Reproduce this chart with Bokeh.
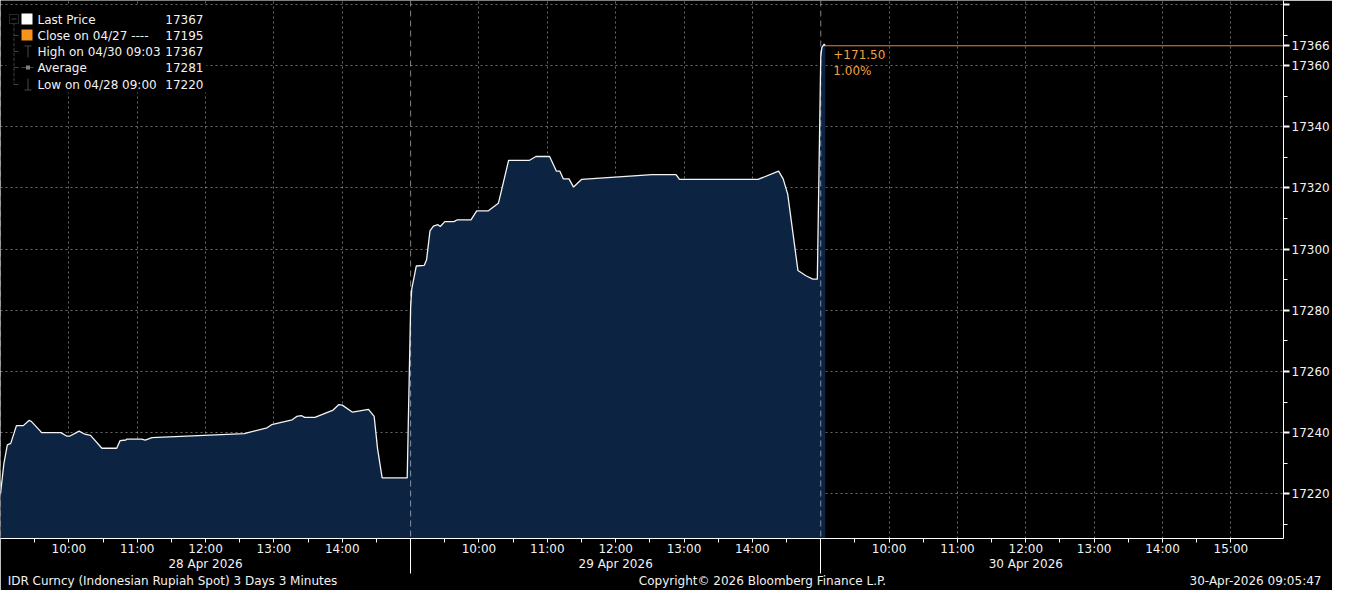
from bokeh.plotting import figure
from bokeh.models import FixedTicker, Span, Label, BoxAnnotation, Range1d, LinearAxis
from bokeh.embed import file_html
from bokeh.resources import INLINE

# ---------------- data ----------------
day_dates = ["28 Apr 2026", "29 Apr 2026", "30 Apr 2026"]

day1_times = ["09:00", "09:03", "09:06", "09:09", "09:14", "09:20", "09:25", "09:27", "09:35", "09:36",
              "09:53", "09:58", "10:01", "10:09", "10:14", "10:19", "10:29", "10:42", "10:45", "10:50",
              "10:51", "11:04", "11:07", "11:13", "12:34", "12:39", "12:54", "12:58", "13:16", "13:20",
              "13:24", "13:27", "13:36", "13:52", "13:57", "14:00", "14:09", "14:23", "14:28", "14:31",
              "14:35", "14:57"]
day1_prices = [17220, 17230, 17236, 17236.5, 17242.3, 17242.3, 17244, 17243.7, 17240.5, 17240,
               17240, 17238.9, 17238.9, 17240.5, 17239.5, 17239.1, 17234.9, 17234.9, 17237.4, 17237.6,
               17237.9, 17237.9, 17237.6, 17238.4, 17239.7, 17240.2, 17241.6, 17242.6, 17244.2, 17245.3,
               17245.6, 17245.0, 17245.0, 17247.4, 17249.2, 17249.0, 17246.7, 17247.6, 17245.3, 17234.7,
               17225.2, 17225.2]

day2_times = ["09:00", "09:01", "09:05", "09:12", "09:14", "09:17", "09:20", "09:24", "09:26", "09:30",
              "09:38", "09:41", "09:53", "09:58", "10:08", "10:17", "10:19", "10:26", "10:44", "10:50",
              "11:02", "11:08", "11:11", "11:14", "11:19", "11:23", "11:30", "12:32", "12:53", "12:56",
              "14:05", "14:23", "14:27", "14:31", "14:40", "14:47", "14:53", "14:57"]
day2_prices = [17281, 17287, 17294.5, 17294.7, 17296.5, 17306, 17307.5, 17308, 17307.4, 17309,
               17309, 17309.6, 17309.6, 17312.5, 17312.5, 17315, 17318, 17329, 17329, 17330.3,
               17330.3, 17325.5, 17325.5, 17323, 17323, 17320.3, 17322.8, 17324.4, 17324.4, 17322.8,
               17322.8, 17325.5, 17323, 17318, 17293, 17291.3, 17290.2, 17290.2]

day3_times = ["09:00", "09:01", "09:03", "09:04"]
day3_prices = [17363, 17366, 17367, 17366.5]

prev_close = 17195
tick_hours = [[10, 11, 12, 13, 14], [10, 11, 12, 13, 14], [10, 11, 12, 13, 14, 15]]
half_hours = [[9.5, 10.5, 11.5, 12.5, 13.5, 14.5], [9.5, 10.5, 11.5, 12.5, 13.5, 14.5],
              [9.5, 10.5, 11.5, 12.5, 13.5, 14.5]]
y_ticks = [17220, 17240, 17260, 17280, 17300, 17320, 17340, 17360, 17380]
y_minor = [17210, 17230, 17250, 17270, 17290, 17310, 17330, 17350, 17370]

legend_names = ["Last Price", "Close on 04/27 ----", "High on 04/30 09:03", "Average", "Low on 04/28 09:00"]
legend_values = ["17367", "17195", "17367", "17281", "17220"]

footer_left = "IDR Curncy (Indonesian Rupiah Spot) 3 Days 3 Minutes"
footer_mid = "Copyright\u00a9 2026 Bloomberg Finance L.P."
footer_right = "30-Apr-2026 09:05:47"

# ---------------- helpers ----------------
SESSION_START = 9
SESSION_LEN = 6


def to_x(day, t):
    h, m = t.split(":")
    return day * SESSION_LEN + (int(h) - SESSION_START) + int(m) / 60.0


xs, ys = [], []
for d, (tt, pp) in enumerate([(day1_times, day1_prices), (day2_times, day2_prices), (day3_times, day3_prices)]):
    xs += [to_x(d, t) for t in tt]
    ys += pp

X_END = 18.77
Y0, Y1 = 17205.4, 17381.3
FW, FH = 1283, 538
FONT = "DejaVu Sans"
WHITE = "#f2f2f2"
PX = X_END / FW  # data units per pixel along x

p = figure(frame_width=FW, frame_height=FH, x_range=Range1d(0, X_END), y_range=Range1d(Y0, Y1),
           y_axis_location="right", x_axis_location="below", toolbar_location=None,
           output_backend="svg", min_border_left=0, min_border_top=0, min_border_right=48,
           min_border_bottom=52, background_fill_color="black", border_fill_color="black",
           outline_line_color=None)


def style_text(ax):
    ax.major_label_text_color = WHITE
    ax.major_label_text_font = FONT
    ax.major_label_text_font_size = "12px"


# x axis (times)
x_major, x_minor, x_over = [], [], {}
for d in range(3):
    for h in tick_hours[d]:
        v = d * SESSION_LEN + (h - SESSION_START)
        x_major.append(v)
        x_over[v] = f"{h:02d}:00"
    for h in half_hours[d]:
        x_minor.append(d * SESSION_LEN + (h - SESSION_START))
xt = FixedTicker(ticks=x_major, minor_ticks=x_minor)
xa = p.xaxis[0]
xa.ticker = xt
xa.major_label_overrides = x_over
xa.axis_line_color = "white"
xa.major_tick_line_color = "white"
xa.minor_tick_line_color = "white"
xa.major_tick_out = 4
xa.major_tick_in = 0
xa.minor_tick_out = 4
xa.minor_tick_in = 0
xa.major_label_standoff = -1
style_text(xa)

# date axis (second row)
date_pos = [d * SESSION_LEN + 3 for d in range(3)]
da = LinearAxis(ticker=FixedTicker(ticks=date_pos, minor_ticks=[]),
                major_label_overrides={v: t for v, t in zip(date_pos, day_dates)})
da.axis_line_color = None
da.major_tick_line_color = None
da.minor_tick_line_color = None
da.major_tick_out = 0
da.major_tick_in = 0
da.minor_tick_out = 0
da.minor_tick_in = 0
da.major_label_standoff = -2
style_text(da)
p.add_layout(da, "below")

# footer axis (third row); day separators drawn as its upward minor ticks
sep_pos = [d * SESSION_LEN for d in (1, 2)]
footer_px = [3 + 169, 762, FW + 46 - 74]
footer_pos = [round(v * PX, 4) for v in footer_px]
fa = LinearAxis(ticker=FixedTicker(ticks=footer_pos, minor_ticks=sep_pos),
                major_label_overrides={v: t for v, t in zip(footer_pos, [footer_left, footer_mid, footer_right])})
fa.axis_line_color = None
fa.major_tick_line_color = None
fa.major_tick_out = 0
fa.major_tick_in = 0
fa.minor_tick_line_color = "white"
fa.minor_tick_out = 0
fa.minor_tick_in = 35
fa.major_label_standoff = 0
style_text(fa)
p.add_layout(fa, "below")

# y axis (prices) with last price marker
last_x, last_p = xs[-1], ys[-1]
yt = FixedTicker(ticks=y_ticks + [last_p], minor_ticks=y_minor)
ya = p.yaxis[0]
ya.ticker = yt
ya.major_label_overrides = {17380: "", last_p: str(int(last_p))}
ya.axis_line_color = "white"
ya.major_tick_line_color = "white"
ya.minor_tick_line_color = "white"
ya.major_tick_out = 6
ya.major_tick_in = 0
ya.major_tick_line_width = 2
ya.minor_tick_out = 4
ya.minor_tick_in = 0
ya.major_label_standoff = 2
style_text(ya)

# grids
p.xgrid.ticker = xt
p.ygrid.ticker = FixedTicker(ticks=y_ticks, minor_ticks=[])
for g in (p.xgrid, p.ygrid):
    g.grid_line_color = "white"
    g.grid_line_alpha = 0.42
    g.grid_line_dash = "2 3"
    g.grid_line_width = 1

# day separators in plot area
for d in range(3):
    p.add_layout(Span(location=d * SESSION_LEN, dimension="height", line_color="white",
                      line_alpha=0.5, line_dash="6 4", line_width=1))

# area + line
p.varea(x=xs, y1=[Y0] * len(xs), y2=ys, fill_color="#0c2341")
p.line(xs, ys, line_color="#f4f4f4", line_width=1.3)

p.segment(x0=[last_x], y0=[last_p], x1=[X_END], y1=[last_p], line_color="#e8823c", line_width=1)

chg = last_p - prev_close
pct = chg / prev_close * 100
p.add_layout(Label(x=last_x, y=last_p, x_offset=8, y_offset=-9, text=f"+{chg:.2f}",
                   text_color="#f0a040", text_font=FONT, text_font_size="12px",
                   text_baseline="middle"))
p.add_layout(Label(x=last_x, y=last_p, x_offset=8, y_offset=-25, text=f"{pct:.2f}%",
                   text_color="#f0a040", text_font=FONT, text_font_size="12px",
                   text_baseline="middle"))

# legend
GRAY = "#808080"


def box(l, r, t, b, **kw):
    p.add_layout(BoxAnnotation(left=l, right=r, top=FH - t, bottom=FH - b, left_units="screen",
                               right_units="screen", top_units="screen", bottom_units="screen",
                               **kw))


box(6, 206, 6, 92, fill_color="black", fill_alpha=1, line_color=None)
rows = [19, 35, 51, 67, 84]
box(9, 18, 14, 23, fill_alpha=0, line_color=GRAY, line_width=1)
box(11, 16, 18.5, 18.5, fill_alpha=0, line_color=GRAY, line_width=1)
box(13.5, 13.5, 23, 84, fill_alpha=0, line_color=GRAY, line_width=1, line_dash="3 2")
for r in rows[1:]:
    box(13.5, 18, r, r, fill_alpha=0, line_color=GRAY, line_width=1)
box(21, 32, 13, 24, fill_color="white", fill_alpha=1, line_color=None)
box(21, 32, 29, 40, fill_color="#f7941d", fill_alpha=1, line_color=None)
box(24, 31, 45.5, 45.5, fill_alpha=0, line_color=GRAY)
box(27.5, 27.5, 45.5, 57, fill_alpha=0, line_color=GRAY)
box(21, 33, 67, 67, fill_alpha=0, line_color=GRAY)
box(25.5, 29.5, 65, 69, fill_color=GRAY, fill_alpha=1, line_color=None)
box(27.5, 27.5, 78, 89.5, fill_alpha=0, line_color=GRAY)
box(24, 31, 89.5, 89.5, fill_alpha=0, line_color=GRAY)
for r, name, val in zip(rows, legend_names, legend_values):
    p.add_layout(Label(x=37, y=FH - r, x_units="screen", y_units="screen", text=name,
                       text_color=WHITE, text_font=FONT, text_font_size="12px",
                       text_baseline="middle"))
    p.add_layout(Label(x=203, y=FH - r, x_units="screen", y_units="screen", text=val,
                       text_color=WHITE, text_font=FONT, text_font_size="12px",
                       text_baseline="middle", text_align="right"))

open("out.html", "w").write(file_html(p, INLINE))
